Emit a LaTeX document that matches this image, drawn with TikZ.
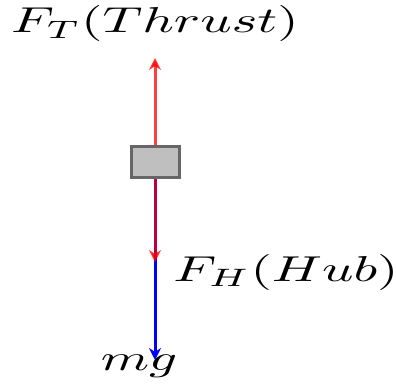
\documentclass[tikz,border=0pt]{standalone}
\usetikzlibrary{arrows.meta}
\begin{document}
\begin{tikzpicture}[x=0.2pt,y=-0.2pt,
  force/.style={line width=0.6pt,-{Stealth[length=2.4pt,width=2.4pt]}},
  lbl/.style={inner sep=0pt},
  body/.style={draw=black!60,fill=black!25,line width=0.6pt,minimum width=9.6pt,minimum height=6.2pt,inner sep=0pt}]
\useasboundingbox (0,0) rectangle (397,385);
\coordinate (c) at (155,162);
\coordinate (top) at (155,58);
\coordinate (hub) at (155,262);
\coordinate (bot) at (155,360);
\draw[force,blue] (c) -- (bot);
\draw[force,red,opacity=0.75] (c) -- (hub);
\draw[force,red,opacity=0.75] (c) -- (top);
\node[body] (box) at (155,162) {};
\node[lbl] (ft) at (155,24) {\scalebox{1.1}[0.72]{$F_T(Thrust)$}};
\node[lbl] (fh) at (286,272) {\scalebox{1.1}[0.72]{$F_H(Hub)$}};
\node[lbl] (mg) at (139,366) {\scalebox{1.1}[0.72]{$mg$}};
\end{tikzpicture}
\end{document}
